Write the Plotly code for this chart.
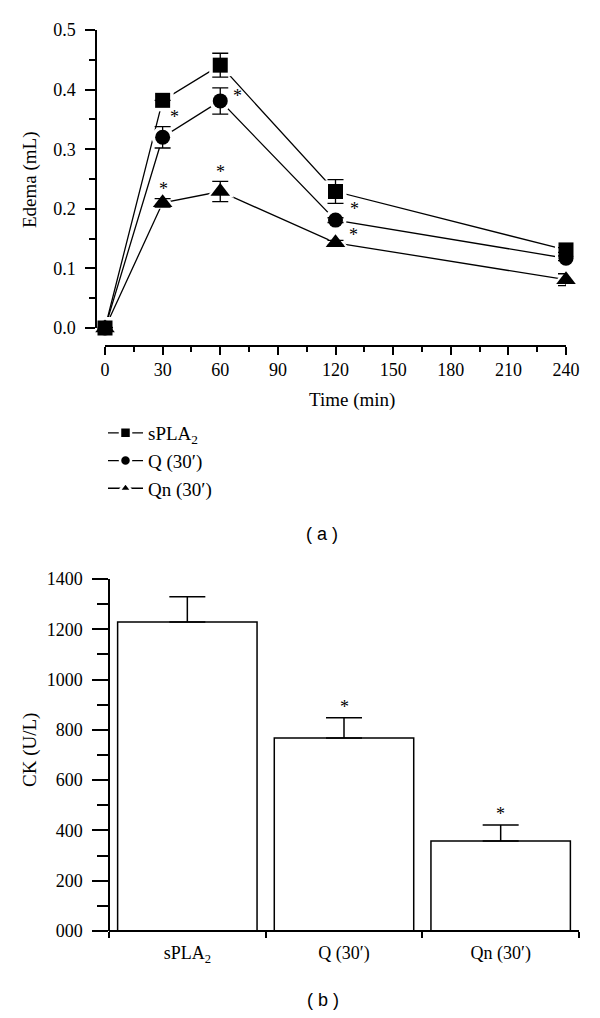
import plotly.graph_objects as go

# ---------------- data: panel (a) ----------------
times = [0, 30, 60, 120, 240]
series_names = ["sPLA<sub>2</sub>", "Q (30′)", "Qn (30′)"]
edema_spla2 = [0.0, 0.382, 0.441, 0.229, 0.131]
edema_q = [0.0, 0.320, 0.381, 0.181, 0.117]
edema_qn = [0.0, 0.210, 0.229, 0.143, 0.081]
err_spla2 = [0.0, 0.0, 0.020, 0.020, 0.004]
err_q = [0.0, 0.018, 0.022, 0.004, 0.004]
err_qn = [0.0, 0.007, 0.017, 0.004, 0.010]
# significance markers (1 = asterisk) per time point
sig_q = [0, 1, 1, 1, 0]
sig_qn = [0, 1, 1, 1, 0]
x_ticks = [0, 30, 60, 90, 120, 150, 180, 210, 240]
y_ticks = [0.0, 0.1, 0.2, 0.3, 0.4, 0.5]
y_ticktext = ["0.0", "0.1", "0.2", "0.3", "0.4", "0.5"]

# ---------------- data: panel (b) ----------------
groups = ["sPLA<sub>2</sub>", "Q (30′)", "Qn (30′)"]
ck = [1229, 768, 358]
ck_err = [100, 80, 64]
ck_sig = [0, 1, 1]
ck_ticks = [0, 200, 400, 600, 800, 1000, 1200, 1400]
ck_ticktext = ["000", "200", "400", "600", "800", "1000", "1200", "1400"]

W, H = 600, 1018
def fx(px):
    return px / W
def fy(py):
    return 1 - py / H

SERIF = "Liberation Serif, Times New Roman, serif"
SANS = "Liberation Sans, Arial, sans-serif"
TICK = dict(family=SERIF, size=18, color="black")
TXT = dict(family=SERIF, size=19, color="black")
STAR = dict(family=SERIF, size=18, color="black")

fig = go.Figure()

vals = [edema_spla2, edema_q, edema_qn]
errs = [err_spla2, err_q, err_qn]
symbols = ["square", "circle", "triangle-up"]
sizes = [15, 15, 17]

# lines
for v in vals:
    fig.add_trace(go.Scatter(x=times, y=v, mode="lines", line=dict(color="black", width=1.3),
                             showlegend=False, hoverinfo="skip", xaxis="x", yaxis="y"))
# white halos (gap between lines and markers)
for v, s, sz in zip(vals, symbols, sizes):
    fig.add_trace(go.Scatter(x=times, y=v, mode="markers",
                             marker=dict(symbol=s, size=sz + 7, color="white", line=dict(width=0)),
                             showlegend=False, hoverinfo="skip", cliponaxis=False,
                             xaxis="x", yaxis="y"))
# markers with error bars
for v, e, s, sz in zip(vals, errs, symbols, sizes):
    fig.add_trace(go.Scatter(x=times, y=v, mode="markers",
                             marker=dict(symbol=s, size=sz, color="black", line=dict(width=0)),
                             error_y=dict(type="data", array=e, color="black", thickness=1.3, width=8),
                             showlegend=False, cliponaxis=False, xaxis="x", yaxis="y"))
# legend entries
for name, s, sz in zip(series_names, symbols, sizes):
    fig.add_trace(go.Scatter(x=[None], y=[None], mode="lines+markers", name=name,
                             line=dict(color="black", width=1.3),
                             marker=dict(symbol=s, size=11, color="black",
                                         line=dict(color="white", width=2.5)),
                             xaxis="x", yaxis="y"))

# bars
fig.add_trace(go.Bar(x=groups, y=ck, width=0.89, xaxis="x2", yaxis="y2",
                     marker=dict(color="white", line=dict(color="black", width=1.5)),
                     error_y=dict(type="data", symmetric=False, array=ck_err,
                                  arrayminus=[0] * len(ck_err), color="black",
                                  thickness=1.5, width=18),
                     showlegend=False, cliponaxis=False))

annotations = []
# asterisks panel (a)
star_shift_q = {30: (12, 20), 60: (17, 5), 120: (19, 11)}
star_shift_qn = {30: (1, 14), 60: (0, 20), 120: (18, 8)}
for t, v, sflag in zip(times, edema_q, sig_q):
    if sflag:
        dx, dy = star_shift_q[t]
        annotations.append(dict(x=t, y=v, xref="x", yref="y", text="*", showarrow=False,
                                xshift=dx, yshift=dy, font=STAR))
for t, v, sflag in zip(times, edema_qn, sig_qn):
    if sflag:
        dx, dy = star_shift_qn[t]
        annotations.append(dict(x=t, y=v, xref="x", yref="y", text="*", showarrow=False,
                                xshift=dx, yshift=dy, font=STAR))
# asterisks panel (b)
for g, v, e, sflag in zip(groups, ck, ck_err, ck_sig):
    if sflag:
        annotations.append(dict(x=g, y=v + e, xref="x2", yref="y2", text="*", showarrow=False,
                                yshift=11, font=STAR))

# titles & panel labels
def label(px, py, text, font, angle=0):
    return dict(x=fx(px), y=fy(py), xref="paper", yref="paper", text=text, textangle=angle,
                xanchor="center", yanchor="middle", showarrow=False, font=font)

SANSF = dict(family=SANS, size=18, color="black")
annotations += [
    label(30, 180, "Edema (mL)", TXT, -90),
    label(352, 400, "Time (min)", TXT),
    label(30, 750, "CK (U/L)", TXT, -90),
    label(322, 534, "( a )", SANSF),
    label(323, 1000, "( b )", SANSF),
]

axis_common = dict(showline=True, linecolor="black", linewidth=1.5, ticks="outside",
                   tickcolor="black", tickwidth=1.5, showgrid=False, zeroline=False,
                   tickfont=TICK, fixedrange=True, automargin=False)

fig.update_layout(
    width=W, height=H,
    margin=dict(l=0, r=0, t=0, b=0, pad=0, autoexpand=False),
    paper_bgcolor="white", plot_bgcolor="white",
    showlegend=True,
    legend=dict(x=fx(103), y=fy(414), xanchor="left", yanchor="top", itemwidth=35,
                font=dict(family=SERIF, size=19, color="black"),
                bgcolor="rgba(0,0,0,0)", borderwidth=0),
    xaxis=dict(axis_common, domain=[fx(105), fx(566)], range=[0, 240], anchor="free",
               position=fy(346), tickmode="array", tickvals=x_ticks, ticklen=8,
               minor=dict(tick0=0, dtick=15, ticks="outside", ticklen=5, tickwidth=1.5,
                          tickcolor="black")),
    yaxis=dict(axis_common, domain=[fy(328), fy(30)], range=[0, 0.5], anchor="free",
               position=fx(96), tickmode="array", tickvals=y_ticks, ticktext=y_ticktext,
               ticklen=10, ticklabelstandoff=6,
               minor=dict(tick0=0, dtick=0.05, ticks="outside", ticklen=6, tickwidth=1.5,
                          tickcolor="black")),
    xaxis2=dict(axis_common, domain=[fx(109), fx(579)], type="category", range=[-0.5, 2.5],
                anchor="free", position=fy(931), tickson="boundaries", ticklen=6,
                ticklabelstandoff=6),
    yaxis2=dict(axis_common, domain=[fy(931), fy(579)], range=[0, 1400], anchor="free",
                position=fx(109), tickmode="array", tickvals=ck_ticks, ticktext=ck_ticktext,
                ticklen=16, ticklabelstandoff=6,
                minor=dict(tick0=0, dtick=100, ticks="outside", ticklen=11, tickwidth=1.5,
                           tickcolor="black")),
    annotations=annotations,
)

fig.write_html(
    "out.html",
    config={"displayModeBar": False, "staticPlot": False},
    post_script="document.documentElement.style.margin='0';document.body.style.margin='0';"
                "document.body.style.overflow='hidden';",
)
